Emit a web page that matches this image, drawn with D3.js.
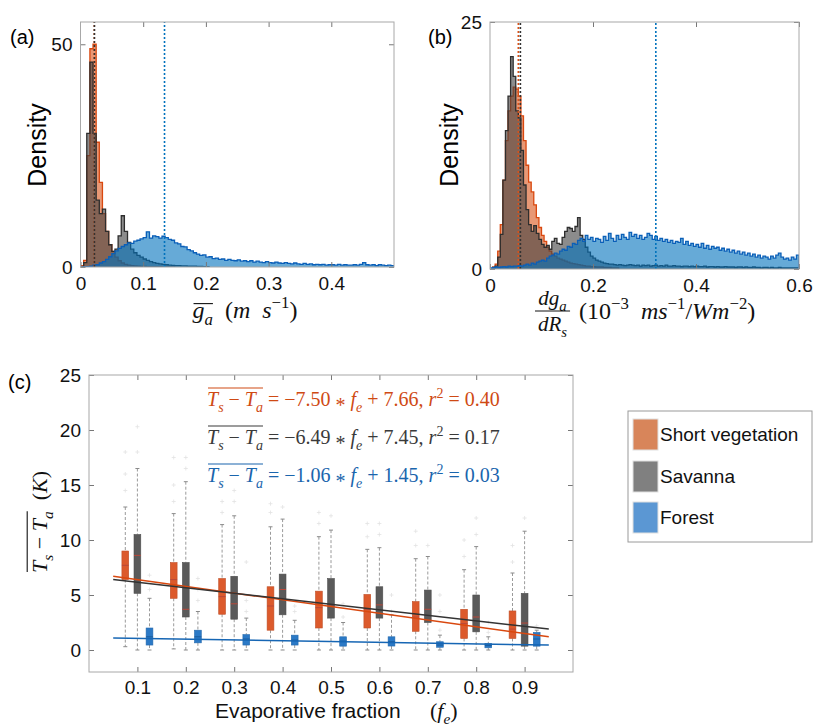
<!DOCTYPE html>
<html>
<head>
<meta charset="utf-8">
<script src="https://cdn.jsdelivr.net/npm/d3@7"></script>
<style>
body { margin: 0; background: #fff; }
svg { display: block; }
.tick text { font-family: "Liberation Sans", Arial, sans-serif; fill: #111; }
.tick line { stroke: #777; }
</style>
</head>
<body>
<div id="fig"></div>
<script>
// ---- data ----
const groups = ["Short vegetation", "Savanna", "Forest"]

// panel (a): histogram of mean g_a, bin width 0.005 starting at 0
const binA = 0.005
const histA_short = [0.3, 1.5, 25, 49, 50, 28, 19, 12, 8, 5, 3.5, 2.2, 1.4, 0.9, 0.6, 0.4, 0.3, 0.25, 0.2, 0.15,
    0.15, 0.1, 0.1, 0.1, 0.08, 0.06, 0.05, 0.05, 0.04, 0.03]
const histA_sav = [0, 1, 30, 46, 30, 15, 12, 13, 8, 5, 3.5, 4, 7, 11.5, 8, 5.5, 4, 3.2, 2.6, 2.2,
    1.8, 1.5, 1.2, 1.0, 0.8, 0.7, 0.6, 0.5, 0.4, 0.35, 0.3, 0.3, 0.25, 0.25, 0.2, 0.2, 0.2, 0.15, 0.15, 0.1, 0.1]
const histA_forest = [0, 0, 0.1, 0.2, 0.4, 0.5, 0.9, 1.2, 1.7, 2.3,
    3.0, 3.6, 4.2, 4.6, 5.0, 5.4, 5.3, 5.8, 6.0, 6.3,
    6.6, 7.9, 6.5, 7.0, 6.8, 6.5, 6.9, 6.6, 6.2, 6.0,
    5.4, 5.2, 4.6, 4.5, 3.9, 3.6, 3.2, 2.9, 2.6, 2.7,
    2.2, 2.3, 1.9, 2.0, 1.7, 1.8, 1.5, 1.7, 1.5, 1.4,
    1.6, 1.3, 1.4, 1.2, 1.4, 1.1, 1.3, 1.1, 1.0, 1.2,
    1.0, 0.9, 1.1, 0.9, 0.8, 1.0, 0.8, 0.7, 0.9, 0.7,
    0.6, 0.8, 0.6, 0.7, 0.5, 0.6, 0.5, 0.6, 0.4, 0.5,
    0.5, 0.4, 0.6, 0.4, 0.5, 0.4, 0.4, 0.5, 0.4, 0.6,
    1.0, 0.5, 0.4, 0.5, 0.3, 0.5, 0.4, 0.3, 0.4, 0.3]
const medianA = [0.022, 0.0222, 0.134]

// panel (b): histogram of dg_a/dR_s, bin width 0.005 starting at 0
const binB = 0.005
const histB_short = [0, 0.2, 0.5, 1.8, 4.5, 9, 13, 16, 17.5, 18.4,
    18.2, 17.5, 15.5, 13, 10.5, 8.8, 7.8, 6.5, 5.2, 4.2,
    3.4, 2.8, 2.2, 1.8, 1.5, 1.3, 1.1, 1.0, 0.9, 0.8,
    0.7, 0.6, 0.55, 0.5, 0.45, 0.4, 0.35, 0.3, 0.3, 0.25,
    0.25, 0.2, 0.2, 0.2, 0.15, 0.15, 0.15, 0.1, 0.1, 0.1]
const histB_sav = [0, 0.1, 0.3, 1.2, 3.5, 9, 14, 17.5, 21.5, 19.5,
    16, 15.3, 12, 8.5, 6.0, 4.5, 3.8, 4.4, 3.6, 3.0,
    2.5, 2.2, 2.4, 2.0, 2.8, 3.1, 2.6, 2.5, 3.2, 3.8,
    4.2, 4.1, 3.8, 4.3, 5.2, 3.4, 3.0, 2.2, 1.7, 1.3,
    1.1, 0.9, 0.8, 0.7, 0.6, 0.55, 0.5, 0.5, 0.45, 0.4,
    0.45, 0.4, 0.35, 0.4, 0.45, 0.4, 0.35, 0.4, 0.3, 0.4,
    0.35, 0.4, 0.3, 0.35, 0.4, 0.3, 0.35, 0.3, 0.4, 0.3,
    0.3, 0.35, 0.3, 0.3, 0.25, 0.3, 0.3, 0.25, 0.3, 0.25,
    0.3, 0.25, 0.25, 0.3, 0.2, 0.25, 0.25, 0.2, 0.25, 0.2,
    0.2, 0.25, 0.2, 0.2, 0.2, 0.15, 0.2, 0.2, 0.15, 0.2,
    0.15, 0.15, 0.2, 0.15, 0.15, 0.1, 0.15, 0.15, 0.1, 0.15,
    0.1, 0.1, 0.15, 0.1, 0.1, 0.1, 0.1, 0.1, 0.1, 0.1]
const histB_forest = [0.1, 0.15, 0.2, 0.15, 0.2, 0.25, 0.2, 0.3, 0.25, 0.3,
    0.3, 0.35, 0.3, 0.4, 0.5, 0.4, 0.6, 0.5, 0.7, 0.8,
    0.9, 0.8, 1.1, 1.3, 1.4, 1.6, 1.5, 1.8, 2.0, 1.9,
    2.3, 2.2, 2.6, 2.5, 2.9, 3.1, 2.8, 3.4, 3.0, 3.2,
    2.8, 3.1, 3.0, 2.7, 3.3, 2.9, 3.6, 3.1, 2.8, 3.4,
    3.0, 3.5, 3.2, 3.0, 3.7, 3.3, 3.5, 3.1, 3.4, 3.0,
    3.2, 3.6, 3.4, 3.0, 3.3, 2.9, 3.1, 2.8, 3.0, 2.7,
    2.9, 2.6, 2.8, 2.7, 3.1, 2.5, 2.8, 2.4, 2.6, 2.3,
    2.5, 2.2, 2.6, 2.1, 2.4, 2.0, 2.3, 2.1, 2.2, 1.9,
    2.1, 1.8, 2.0, 1.7, 1.9, 1.6, 1.8, 1.5, 1.7, 1.4,
    1.6, 1.3, 1.5, 1.2, 1.4, 1.1, 1.3, 1.2, 1.0, 1.3,
    1.1, 1.4, 1.6, 1.2, 1.0, 1.1, 0.9, 1.2, 1.0, 1.4]
const medianB = [0.055, 0.059, 0.322]

// panel (c): boxplots of Ts - Ta by evaporative fraction  [whisker low, q1, median, q3, whisker high]
const feBins = [0.1, 0.2, 0.3, 0.4, 0.5, 0.6, 0.7, 0.8, 0.9]
const boxShort = [[0.3, 6.4, 7.7, 9.0, 13.0], [0.1, 4.7, 6.4, 7.95, 12.4], [0, 3.25, 4.85, 6.5, 11.4],
    [0, 1.8, 4.0, 5.75, 11.2], [0, 2.0, 3.85, 5.35, 10.3], [0, 2.0, 3.7, 5.05, 9.15],
    [0, 1.7, 3.0, 4.4, 8.3], [0, 1.05, 2.4, 3.7, 7.3], [0, 1.05, 1.9, 3.55, 7.0]]
const boxSav = [[0, 5.15, 8.6, 10.5, 16.5], [0, 3.0, 3.7, 7.95, 15.3], [0, 2.8, 4.2, 6.7, 12.2],
    [0, 3.2, 5.5, 6.9, 11.9], [0, 2.9, 4.1, 6.5, 10.9], [0, 2.9, 4.1, 5.75, 9.3],
    [0, 2.5, 3.7, 5.45, 8.5], [0, 1.65, 3.0, 5.0, 9.4], [0, 0.35, 2.45, 5.15, 10.8]]
const boxForest = [[0, 0.45, 1.2, 2.0, 4.7], [0, 0.65, 1.2, 1.8, 3.5], [0, 0.45, 1.0, 1.4, 2.9],
    [0, 0.45, 0.9, 1.35, 2.7], [0, 0.35, 0.8, 1.2, 2.5], [0, 0.36, 0.75, 1.2, 3.2],
    [0, 0.25, 0.45, 0.75, 1.35], [0, 0.2, 0.4, 0.6, 1.2], [0, 0.35, 1.0, 1.6, 1.8]]
const outShort = [[14.5, 16, 18], [13.5, 15, 17.5], [12.5, 13.5, 15], [12.5, 13.3], [11.5, 12.5],
    [10.3, 11.5], [9.5, 10.8], [8.5, 10], [8, 9.5]]
const outSav = [[18, 20.3], [16.5, 17.5], [13.5, 14.5], [13], [12.2], [10.5, 11.5], [9.5], [10.5, 12], [12]]
const outForest = [[5.5, 6.8], [4.5, 5.5, 6.5], [3.5, 4.5, 8], [3.5, 4], [3, 4.2], [3.5, 5],
    [1.8, 3.5, 5], [1.6, 2.5], [2.2]]
const fitShort = [[0.05, 6.7], [0.95, 1.2]]
const fitSav = [[0.05, 6.4], [0.95, 1.9]]
const fitForest = [[0.05, 1.1], [0.95, 0.45]]
const fitSlope = ["−7.50", "−6.49", "−1.06"]
const fitIntercept = ["7.66", "7.45", "1.45"]
const fitR2 = ["0.40", "0.17", "0.03"]

// ---- styles ----
const sans = '"Liberation Sans", Arial, sans-serif'
const serif = '"Liberation Serif", "Times New Roman", serif'
const histFill = ["#D95319", "#404040", "#0072BD"]
const histEdge = ["#d9480f", "#2e2e2e", "#0a5fb8"]
const boxFill = ["#dc5a2c", "#5a5a5a", "#2b79c6"]
const lineCol = ["#d9480f", "#333333", "#1666b4"]
const eqCol = ["#cf4a14", "#3a3a3a", "#1a65ad"]
const legendCol = ["#d8855a", "#808080", "#5b97d3"]
const frameCol = "#a8a8a8"

const svg = d3.select("#fig").append("svg").attr("width", 814).attr("height", 726)

// math text made of pieces {t, it, sub, sup, low}; segments with over set get an overline at that height
function mathLabel(parent, segments, size, color) {
    const g = parent.append("g").attr("fill", color)
    let x = 0
    segments.forEach(seg => {
        const t = g.append("text").attr("x", x).attr("y", 0)
            .attr("font-family", serif).attr("font-size", size)
            .style("white-space", "pre")
        let shift = 0
        seg.pieces.forEach(p => {
            const sp = t.append("tspan").text(p.t)
            if (p.it) sp.attr("font-style", "italic")
            const target = p.sub ? 0.28 * size : p.sup ? -0.42 * size : p.low ? 0.3 * size : 0
            if (p.sub || p.sup) sp.attr("font-size", size * 0.7)
            sp.attr("dy", target - shift)
            shift = target
        })
        const w = t.node().getComputedTextLength()
        if (seg.over) {
            g.append("line").attr("x1", x + 1).attr("x2", x + w)
                .attr("y1", -seg.over * size).attr("y2", -seg.over * size)
                .attr("stroke", color).attr("stroke-width", 1.1)
        }
        x += w
    })
    return { g: g, width: x }
}

function drawFrame(g, x, y) {
    const [x0, x1] = x.range(), [y0, y1] = y.range()
    g.append("rect").attr("x", x0).attr("y", y1).attr("width", x1 - x0).attr("height", y0 - y1)
        .attr("fill", "none").attr("stroke", frameCol)
}

function drawHist(g, x, y, bins, width, i, clipId) {
    const pts = bins.map((v, k) => [k * width, v])
    pts.push([bins.length * width, bins[bins.length - 1]])
    const area = d3.area().curve(d3.curveStepAfter)
        .x(d => x(d[0])).y0(y(0)).y1(d => y(d[1]))
    const line = d3.line().curve(d3.curveStepAfter).x(d => x(d[0])).y(d => y(d[1]))
    const outline = [[0, 0]].concat(pts, [[bins.length * width, 0]])
    const h = g.append("g").attr("clip-path", `url(#${clipId})`)
    h.append("path").datum(pts).attr("d", area).attr("fill", histFill[i]).attr("fill-opacity", 0.6)
    h.append("path").datum(outline).attr("d", line).attr("fill", "none")
        .attr("stroke", histEdge[i]).attr("stroke-width", 1.3)
}

function drawMedians(g, x, y, meds) {
    meds.forEach((m, i) => {
        g.append("line").attr("x1", x(m)).attr("x2", x(m))
            .attr("y1", y.range()[0]).attr("y2", y.range()[1])
            .attr("stroke", i == 1 ? "#333" : histFill[i]).attr("stroke-width", 1.6)
            .attr("stroke-dasharray", "2,2")
    })
}

function histPanel(opts) {
    const { x, y, hists, bin, meds, xticks, yticks, fmt, clipId } = opts
    const g = svg.append("g")
    g.append("clipPath").attr("id", clipId).append("rect")
        .attr("x", x.range()[0]).attr("y", y.range()[1])
        .attr("width", x.range()[1] - x.range()[0]).attr("height", y.range()[0] - y.range()[1])
    hists.forEach((h, i) => drawHist(g, x, y, h, bin, i, clipId))
    drawMedians(g, x, y, meds)

    const xb = g.append("g").attr("transform", `translate(0,${y.range()[0]})`)
        .call(d3.axisBottom(x).tickValues(xticks).tickFormat(fmt).tickSize(-5).tickPadding(10))
    xb.selectAll("text").attr("font-size", 19)
    g.append("g").attr("transform", `translate(0,${y.range()[1]})`)
        .call(d3.axisTop(x).tickValues(xticks.filter(v => v > 0)).tickFormat("").tickSize(-5))
    const yl = g.append("g").attr("transform", `translate(${x.range()[0]},0)`)
        .call(d3.axisLeft(y).tickValues(yticks).tickSize(-5).tickPadding(8))
    yl.selectAll("text").attr("font-size", 19)
    g.append("g").attr("transform", `translate(${x.range()[1]},0)`)
        .call(d3.axisRight(y).tickValues(yticks).tickFormat("").tickSize(-5))
    g.selectAll(".domain").remove()
    drawFrame(g, x, y)
    return g
}

// ---- panel (a) ----
const xA = d3.scaleLinear().domain([0, 0.5]).range([80.5, 394])
const yA = d3.scaleLinear().domain([0, 55]).range([267, 22])
const gA = histPanel({ x: xA, y: yA, hists: [histA_short, histA_sav, histA_forest], bin: binA,
    meds: medianA, xticks: [0, 0.1, 0.2, 0.3, 0.4], yticks: [0, 50],
    fmt: d => d == 0 ? "0" : d3.format(".1f")(d), clipId: "clipA" })

svg.append("text").attr("x", 10).attr("y", 44).attr("font-family", sans).attr("font-size", 20).text("(a)")
svg.append("text").attr("transform", "translate(46,145) rotate(-90)").attr("text-anchor", "middle")
    .attr("font-family", sans).attr("font-size", 25).text("Density")
const labA = mathLabel(svg, [
    { over: 0.6, pieces: [{ t: "g", it: true }, { t: "a", it: true, sub: true }] },
    { pieces: [{ t: "  (" }, { t: "m", it: true }, { t: "  " }, { t: "s", it: true }, { t: "−1", sup: true }, { t: ")" }] }
], 24, "#111")
labA.g.attr("transform", `translate(${245 - labA.width / 2},318)`)

// ---- panel (b) ----
const xB = d3.scaleLinear().domain([0, 0.6]).range([490, 799])
const yB = d3.scaleLinear().domain([0, 25]).range([269, 22])
const gB = histPanel({ x: xB, y: yB, hists: [histB_short, histB_sav, histB_forest], bin: binB,
    meds: medianB, xticks: [0, 0.2, 0.4, 0.6], yticks: [0, 25],
    fmt: d => d == 0 ? "0" : d3.format(".1f")(d), clipId: "clipB" })

svg.append("text").attr("x", 428).attr("y", 44).attr("font-family", sans).attr("font-size", 20).text("(b)")
svg.append("text").attr("transform", "translate(458,145) rotate(-90)").attr("text-anchor", "middle")
    .attr("font-family", sans).attr("font-size", 25).text("Density")
const num = mathLabel(svg, [{ pieces: [{ t: "dg", it: true }, { t: "a", it: true, sub: true }] }], 21, "#111")
const den = mathLabel(svg, [{ pieces: [{ t: "dR", it: true }, { t: "s", it: true, sub: true }] }], 21, "#111")
const fracW = Math.max(num.width, den.width) + 6
const fracX = 535
num.g.attr("transform", `translate(${fracX + (fracW - num.width) / 2},305)`)
den.g.attr("transform", `translate(${fracX + (fracW - den.width) / 2},331)`)
svg.append("line").attr("x1", fracX).attr("x2", fracX + fracW).attr("y1", 311).attr("y2", 311)
    .attr("stroke", "#111").attr("stroke-width", 1)
const unitsB = mathLabel(svg, [{ pieces: [{ t: "(10" }, { t: "−3", sup: true }, { t: "  " },
    { t: "ms", it: true }, { t: "−1", sup: true }, { t: "/" }, { t: "Wm", it: true }, { t: "−2", sup: true }, { t: ")" }] }],
    24, "#111")
unitsB.g.attr("transform", `translate(${fracX + fracW + 9},319)`)

// ---- panel (c) ----
const xC = d3.scaleLinear().domain([0, 1]).range([89, 573])
const yC = d3.scaleLinear().domain([-2, 25]).range([672, 375])
const gC = svg.append("g")
const boxW = 0.014, offsets = [-0.025, 0, 0.025]
const boxSets = [boxShort, boxSav, boxForest]
const outSets = [outShort, outSav, outForest]
const fits = [fitShort, fitSav, fitForest]

boxSets.forEach((set, i) => {
    outSets[i].forEach((outs, k) => {
        const cx = xC(feBins[k] + offsets[i])
        outs.forEach(v => {
            gC.append("path").attr("d", `M${cx - 2},${yC(v)}h4M${cx},${yC(v) - 2}v4`)
                .attr("stroke", "#e2e2e2").attr("stroke-width", 0.8)
        })
    })
})

boxSets.forEach((set, i) => {
    set.forEach((b, k) => {
        const cx = xC(feBins[k] + offsets[i])
        const half = (xC(boxW) - xC(0)) / 2
        const [lo, q1, med, q3, hi] = b
        gC.append("line").attr("x1", cx).attr("x2", cx).attr("y1", yC(hi)).attr("y2", yC(q3))
            .attr("stroke", "#9a9a9a").attr("stroke-dasharray", "3,2")
        gC.append("line").attr("x1", cx).attr("x2", cx).attr("y1", yC(q1)).attr("y2", yC(lo))
            .attr("stroke", "#9a9a9a").attr("stroke-dasharray", "3,2")
        ;[lo, hi].forEach(v => gC.append("line").attr("x1", cx - 2).attr("x2", cx + 2)
            .attr("y1", yC(v)).attr("y2", yC(v)).attr("stroke", "#8a8a8a"))
        gC.append("rect").attr("x", cx - half).attr("y", yC(q3)).attr("width", 2 * half)
            .attr("height", yC(q1) - yC(q3)).attr("fill", boxFill[i])
            .attr("stroke", d3.color(boxFill[i]).darker(0.4)).attr("stroke-width", 0.6)
        gC.append("line").attr("x1", cx - half).attr("x2", cx + half).attr("y1", yC(med)).attr("y2", yC(med))
            .attr("stroke", i == 2 ? "#1b5c9c" : "#b8483a").attr("stroke-width", 1)
    })
})

const fitLine = d3.line().x(d => xC(d[0])).y(d => yC(d[1]))
fits.forEach((f, i) => {
    gC.append("path").datum(f).attr("d", fitLine).attr("fill", "none")
        .attr("stroke", lineCol[i]).attr("stroke-width", 1.5)
})

const xcAxis = gC.append("g").attr("transform", `translate(0,${yC.range()[0]})`)
    .call(d3.axisBottom(xC).tickValues(feBins).tickFormat(d3.format(".1f")).tickSize(-5).tickPadding(9))
xcAxis.selectAll("text").attr("font-size", 19)
gC.append("g").attr("transform", `translate(0,${yC.range()[1]})`)
    .call(d3.axisTop(xC).tickValues(feBins).tickFormat("").tickSize(-5))
const ycAxis = gC.append("g").attr("transform", `translate(${xC.range()[0]},0)`)
    .call(d3.axisLeft(yC).tickValues([0, 5, 10, 15, 20, 25]).tickSize(-5).tickPadding(8))
ycAxis.selectAll("text").attr("font-size", 19)
gC.append("g").attr("transform", `translate(${xC.range()[1]},0)`)
    .call(d3.axisRight(yC).tickValues([0, 5, 10, 15, 20, 25]).tickFormat("").tickSize(-5))
gC.selectAll(".domain").remove()
drawFrame(gC, xC, yC)

const eqBase = [406, 444, 482]
fitSlope.forEach((s, i) => {
    const eq = mathLabel(svg, [
        { over: 0.9, pieces: [{ t: "T", it: true }, { t: "s", it: true, sub: true }, { t: " − " },
            { t: "T", it: true }, { t: "a", it: true, sub: true }] },
        { pieces: [{ t: " = " + s + " " }, { t: "*", low: true }, { t: " " }, { t: "f", it: true }, { t: "e", it: true, sub: true },
            { t: " + " + fitIntercept[i] + ", " }, { t: "r", it: true }, { t: "2", sup: true }, { t: " = " + fitR2[i] }] }
    ], 20, eqCol[i])
    eq.g.attr("transform", `translate(207,${eqBase[i]})`)
})

svg.append("text").attr("x", 8).attr("y", 389).attr("font-family", sans).attr("font-size", 20).text("(c)")
const labC = mathLabel(svg, [
    { over: 0.9, pieces: [{ t: "T", it: true }, { t: "s", it: true, sub: true }, { t: " − " },
        { t: "T", it: true }, { t: "a", it: true, sub: true }] },
    { pieces: [{ t: "  (" }, { t: "K", it: true }, { t: ")" }] }
], 22, "#111")
labC.g.attr("transform", `translate(47,${522 + labC.width / 2}) rotate(-90)`)

svg.append("text").attr("x", 215).attr("y", 718).attr("font-family", sans).attr("font-size", 21)
    .attr("fill", "#111").text("Evaporative fraction")
const feLab = mathLabel(svg, [{ pieces: [{ t: "(" }, { t: "f", it: true }, { t: "e", it: true, sub: true }, { t: ")" }] }], 22, "#111")
feLab.g.attr("transform", "translate(430,718)")

// legend
const leg = svg.append("g")
leg.append("rect").attr("x", 628).attr("y", 411).attr("width", 184).attr("height", 131)
    .attr("fill", "#fff").attr("stroke", "#9a9a9a")
const legY = [419, 461, 502]
groups.forEach((name, i) => {
    leg.append("rect").attr("x", 633).attr("y", legY[i]).attr("width", 25).attr("height", 31)
        .attr("fill", legendCol[i]).attr("stroke", "#e0e0e0")
    leg.append("text").attr("x", 660).attr("y", legY[i] + 15.5).attr("dy", "0.35em")
        .attr("font-family", sans).attr("font-size", 19).attr("fill", "#111").text(name)
})
</script>
</body>
</html>
